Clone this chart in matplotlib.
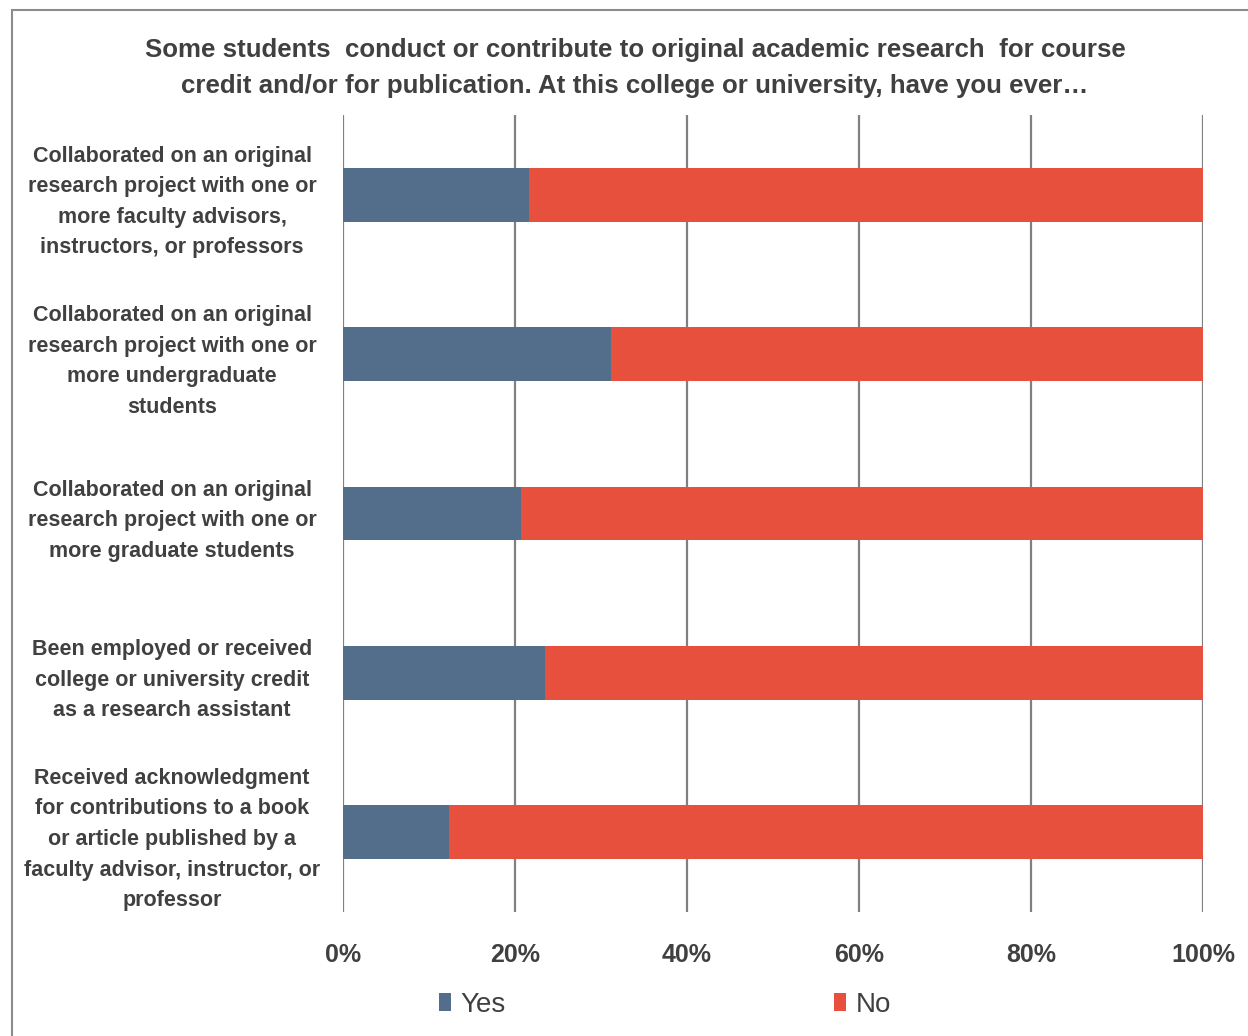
import matplotlib.pyplot as plt
from matplotlib import font_manager
from matplotlib.patches import Rectangle

# pick a narrow sans if one is there
names = {f.name for f in font_manager.fontManager.ttflist}
family = 'Liberation Sans Narrow' if 'Liberation Sans Narrow' in names else 'Liberation Sans'
plt.rcParams['font.family'] = [family, 'DejaVu Sans']

categories = [
    'Collaborated on an original\nresearch project with one or\nmore faculty advisors,\ninstructors, or professors',
    'Collaborated on an original\nresearch project with one or\nmore undergraduate\nstudents',
    'Collaborated on an original\nresearch project with one or\nmore graduate students',
    'Been employed or received\ncollege or university credit\nas a research assistant',
    'Received acknowledgment\nfor contributions to a book\nor article published by a\nfaculty advisor, instructor, or\nprofessor',
]
yes = [21.6, 31.2, 20.7, 23.5, 12.3]
no = [100 - v for v in yes]
ticks = [0, 20, 40, 60, 80, 100]
tick_labels = ['0%', '20%', '40%', '60%', '80%', '100%']

title = ('Some students  conduct or contribute to original academic research  for course\n'
         'credit and/or for publication. At this college or university, have you ever…')

text_col = '#404040'
yes_col = '#536E8A'
no_col = '#E8503E'

fig = plt.figure(figsize=(12.48, 10.36), dpi=100)
ax = fig.add_axes([343 / 1248, 124 / 1036, 860 / 1248, 797 / 1036])

y = list(range(len(categories)))
ax.barh(y, yes, height=0.3375, color=yes_col, label='Yes', zorder=3)
ax.barh(y, no, left=yes, height=0.3375, color=no_col, label='No', zorder=3)

ax.set_xlim(0, 100)
ax.set_ylim(4.5, -0.5)
ax.set_xticks(ticks)
ax.set_xticklabels(tick_labels, fontsize=18, fontweight='bold', color=text_col)
ax.set_yticks(y)
ax.set_yticklabels(categories, fontsize=15.5, fontweight='bold', color=text_col,
                   ha='center', linespacing=1.6)
for lbl in ax.get_yticklabels():
    lbl.set_y(lbl.get_position()[1])
ax.tick_params(axis='y', length=0, pad=123)
ax.tick_params(axis='x', length=0, pad=22)
for s in ax.spines.values():
    s.set_visible(False)
ax.grid(axis='x', color='#808080', linewidth=1.6, zorder=0)

fig.text(635 / 1248, 1 - 68 / 1036, title, ha='center', va='center', fontsize=18.6,
         fontweight='bold', color=text_col, linespacing=1.6)

fig.legend(loc='center', bbox_to_anchor=(665 / 1248, 1 - 1005 / 1036), ncol=2,
           frameon=False, fontsize=20, handlelength=0.45, handleheight=0.6,
           handletextpad=0.35, columnspacing=11.8, labelcolor=text_col)

# outer chart border (partly off the image like the source)
fig.patches.append(Rectangle((12 / 1248, -0.05), 1.2, 1 - 10 / 1036 + 0.05,
                             transform=fig.transFigure, fill=False,
                             edgecolor='#8c8c8c', linewidth=1.5))

fig.savefig('out.png', dpi=100)
